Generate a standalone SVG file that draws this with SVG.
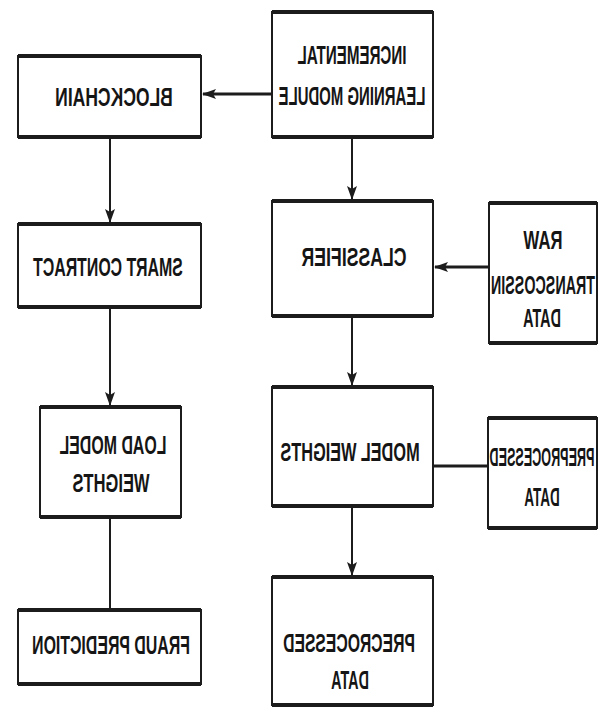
<svg xmlns="http://www.w3.org/2000/svg" width="600" height="707" viewBox="0 0 600 707">
<style>
.bg{fill:#ffffff}
.box{fill:#ffffff;stroke:#1c1c1c;stroke-width:2}
.edge{stroke:#1c1c1c;stroke-width:4;fill:none}
.t{font-family:"Liberation Sans",Arial,sans-serif;font-weight:bold;font-size:26px;fill:#151515;text-anchor:middle}
.c{stroke:#1c1c1c;stroke-width:2;fill:none}
.ch{stroke:#1c1c1c;stroke-width:3;fill:none}
</style>
<defs>
<marker id="ah" markerUnits="userSpaceOnUse" markerWidth="14" markerHeight="10" refX="13" refY="5" orient="auto">
<path d="M0,0 L14,5 L0,10 L3,5 Z" fill="#1c1c1c"/>
</marker>
</defs>
<rect class="bg" x="0" y="0" width="600" height="707"/>
<g id="connectors">
<line class="ch" x1="272" y1="94" x2="203" y2="94" marker-end="url(#ah)"/>
<line class="c" x1="110" y1="137" x2="110" y2="222" marker-end="url(#ah)"/>
<line class="c" x1="110" y1="307" x2="110" y2="405" marker-end="url(#ah)"/>
<line class="c" x1="110" y1="517" x2="110" y2="610"/>
<line class="c" x1="352" y1="137" x2="352" y2="199" marker-end="url(#ah)"/>
<line class="ch" x1="489" y1="267" x2="435" y2="267" marker-end="url(#ah)"/>
<line class="c" x1="352" y1="316" x2="352" y2="385" marker-end="url(#ah)"/>
<line class="ch" x1="433" y1="466" x2="488" y2="466"/>
<line class="c" x1="352" y1="506" x2="352" y2="575" marker-end="url(#ah)"/>
</g>
<g id="incremental">
<rect class="box" x="272" y="12" width="161" height="125"/>
<path class="edge" d="M272,12 H433 M272,137 H433"/>
<text class="t" transform="translate(352,64) scale(-0.582,1)">INCREMENTAL</text>
<text class="t" transform="translate(352,105) scale(-0.575,1)">LEARNING MODULE</text>
</g>
<g id="blockchain">
<rect class="box" x="18" y="56" width="183" height="81"/>
<path class="edge" d="M18,56 H201 M18,137 H201"/>
<text class="t" transform="translate(114,106) scale(-0.674,1)">BLOCKCHAIN</text>
</g>
<g id="smart-contract">
<rect class="box" x="18" y="224" width="183" height="83"/>
<path class="edge" d="M18,224 H201 M18,307 H201"/>
<text class="t" transform="translate(108,276) scale(-0.61,1)">SMART CONTRACT</text>
</g>
<g id="classifier">
<rect class="box" x="272" y="201" width="161" height="115"/>
<path class="edge" d="M272,201 H433 M272,316 H433"/>
<text class="t" transform="translate(354,266) scale(-0.68,1)">CLASSIFIER</text>
</g>
<g id="raw-data">
<rect class="box" x="489" y="203" width="108" height="140"/>
<path class="edge" d="M489,203 H597 M489,343 H597"/>
<text class="t" transform="translate(543,249) scale(-0.646,1)">RAW</text>
<text class="t" transform="translate(543,294) scale(-0.55,1)">TRANSCOSSIN</text>
<text class="t" transform="translate(542,327) scale(-0.554,1)">DATA</text>
</g>
<g id="model-weights">
<rect class="box" x="272" y="387" width="161" height="119"/>
<path class="edge" d="M272,387 H433 M272,506 H433"/>
<text class="t" transform="translate(350,461) scale(-0.628,1)">MODEL WEIGHTS</text>
</g>
<g id="preprocessed-data">
<rect class="box" x="488" y="418" width="109" height="110"/>
<path class="edge" d="M488,418 H597 M488,528 H597"/>
<text class="t" transform="translate(542,466) scale(-0.485,1)">PREPROCESSED</text>
<text class="t" transform="translate(542,506) scale(-0.517,1)">DATA</text>
</g>
<g id="load-model-weights">
<rect class="box" x="40" y="407" width="141" height="110"/>
<path class="edge" d="M40,407 H181 M40,517 H181"/>
<text class="t" transform="translate(113,454) scale(-0.612,1)">LOAD MODEL</text>
<text class="t" transform="translate(111,492) scale(-0.634,1)">WEIGHTS</text>
</g>
<g id="fraud-prediction">
<rect class="box" x="18" y="610" width="183" height="74"/>
<path class="edge" d="M18,610 H201 M18,684 H201"/>
<text class="t" transform="translate(111,654) scale(-0.611,1)">FRAUD PREDICTION</text>
</g>
<g id="precrocessed-data">
<rect class="box" x="272" y="577" width="161" height="128"/>
<path class="edge" d="M272,577 H433 M272,705 H433"/>
<text class="t" transform="translate(349,652) scale(-0.605,1)">PRECROCESSED</text>
<text class="t" transform="translate(350,689) scale(-0.554,1)">DATA</text>
</g>
</svg>
